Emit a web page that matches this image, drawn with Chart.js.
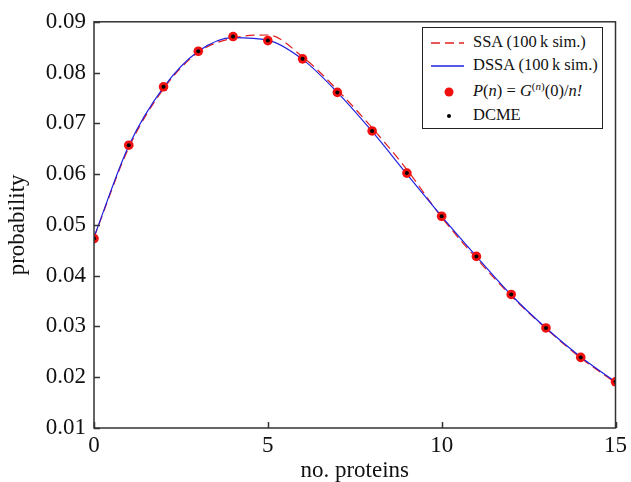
<!DOCTYPE html>
<html>
<head>
<meta charset="utf-8">
<script src="https://cdn.jsdelivr.net/npm/chart.js@4.4.1/dist/chart.umd.min.js"></script>
<style>
  html, body { margin: 0; padding: 0; background: #fff; }
  #wrap { position: relative; width: 631px; height: 482px; }
  #legend {
    position: absolute; left: 422px; top: 27px; width: 181px; height: 102px;
    border: 1.5px solid #222; background: #fff; box-sizing: border-box;
    font-family: "Liberation Serif", "DejaVu Serif", serif; font-size: 16.5px; color: #111;
  }
  #legend .row { position: absolute; left: 0; height: 20px; width: 100%; }
  #legend .txt { position: absolute; left: 50px; top: 0; white-space: nowrap; line-height: 20px; }
  #legend svg { position: absolute; left: 0; top: 0; }
  #legend sup { font-size: 11px; line-height: 0; }
</style>
</head>
<body>
<div id="wrap">
  <canvas id="chart" width="631" height="482"></canvas>
  <div id="legend">
    <div class="row" style="top:4px">
      <svg width="48" height="20"><line x1="8" y1="11" x2="41" y2="11" stroke="#e02020" stroke-width="1.3" stroke-dasharray="9,5"/></svg>
      <div class="txt">SSA (100&#8201;k sim.)</div>
    </div>
    <div class="row" style="top:27px">
      <svg width="48" height="20"><line x1="8" y1="11" x2="41" y2="11" stroke="#2020e0" stroke-width="1.3"/></svg>
      <div class="txt">DSSA (100&#8201;k sim.)</div>
    </div>
    <div class="row" style="top:53px">
      <svg width="48" height="20"><circle cx="26" cy="11" r="4.5" fill="#f01010"/></svg>
      <div class="txt"><i>P</i>(<i>n</i>) = <i>G</i><sup>(<i>n</i>)</sup>(0)/<i>n!</i></div>
    </div>
    <div class="row" style="top:77px">
      <svg width="48" height="20"><circle cx="26" cy="11" r="2" fill="#000"/></svg>
      <div class="txt">DCME</div>
    </div>
  </div>
</div>
<script>
document.addEventListener("DOMContentLoaded", () => {
  const proteins = [0, 1, 2, 3, 4, 5, 6, 7, 8, 9, 10, 11, 12, 13, 14, 15];
  const ssaValues = [0.0475, 0.0652, 0.0768, 0.0840, 0.0868, 0.0874, 0.0831, 0.0766, 0.0691, 0.0609, 0.0515, 0.0434, 0.0360, 0.0296, 0.0238, 0.0189];
  const dssaValues = [0.0476, 0.0656, 0.0771, 0.0842, 0.0869, 0.0864, 0.0826, 0.0761, 0.0684, 0.0600, 0.0517, 0.0438, 0.0362, 0.0297, 0.0240, 0.0191];
  const exactValues = [0.0473, 0.0657, 0.0772, 0.0842, 0.0871, 0.0863, 0.0827, 0.0761, 0.0685, 0.0602, 0.0517, 0.0438, 0.0363, 0.0297, 0.0239, 0.0191];
  const dcmeValues = exactValues.slice();
  const xTicks = [0, 5, 10, 15];

  const pts = vals => proteins.map((n, i) => ({ x: n, y: vals[i] }));
  const serif = "'Liberation Serif', 'DejaVu Serif', serif";

  // box round the plot + inward tick marks
  const frame = {
    id: "frame",
    afterDatasetsDraw(chart) {
      const { ctx, chartArea: a, scales } = chart;
      ctx.save();
      ctx.strokeStyle = "#333";
      ctx.lineWidth = 1.5;
      ctx.strokeRect(a.left, a.top, a.right - a.left, a.bottom - a.top);
      ctx.beginPath();
      scales.y.ticks.forEach(t => {
        const y = Math.round(scales.y.getPixelForValue(t.value)) + 0.5;
        ctx.moveTo(a.left, y);
        ctx.lineTo(a.left + 6, y);
      });
      xTicks.forEach(v => {
        const x = Math.round(scales.x.getPixelForValue(v)) + 0.5;
        ctx.moveTo(x, a.bottom);
        ctx.lineTo(x, a.bottom - 6);
      });
      ctx.stroke();
      ctx.restore();
    }
  };

  new Chart(document.getElementById("chart"), {
    type: "line",
    data: {
      datasets: [
        { label: "DCME", data: pts(dcmeValues), showLine: false, pointRadius: 2,
          pointBackgroundColor: "#000", pointBorderWidth: 0, order: 0 },
        { label: "P(n)", data: pts(exactValues), showLine: false, pointRadius: 4.8,
          pointBackgroundColor: "#f01010", pointBorderWidth: 0, order: 1 },
        { label: "DSSA", data: pts(dssaValues), borderColor: "#2020e0", borderWidth: 1.2,
          pointRadius: 0, cubicInterpolationMode: "monotone", order: 2 },
        { label: "SSA", data: pts(ssaValues), borderColor: "#e02020", borderWidth: 1.2,
          borderDash: [9, 5], pointRadius: 0, cubicInterpolationMode: "monotone", order: 3 }
      ]
    },
    options: {
      responsive: false,
      animation: false,
      layout: { padding: { top: 14, right: 11, left: 0, bottom: 0 } },
      plugins: { legend: { display: false }, tooltip: { enabled: false } },
      scales: {
        x: {
          type: "linear", min: 0, max: 15,
          afterBuildTicks: s => { s.ticks = xTicks.map(v => ({ value: v })); },
          afterFit: s => { s.height = 54; },
          grid: { display: false, drawTicks: false },
          border: { display: false },
          ticks: { color: "#111", padding: 4, font: { family: serif, size: 23 } },
          title: { display: true, text: "no. proteins", color: "#111", padding: { top: 0, bottom: -3 },
                   font: { family: serif, size: 23 } }
        },
        y: {
          min: 0.01, max: 0.09,
          afterFit: s => { s.width = 94; },
          grid: { display: false, drawTicks: false },
          border: { display: false },
          ticks: { stepSize: 0.01, color: "#111", padding: 8,
                   font: { family: serif, size: 23 },
                   callback: v => v.toFixed(2) },
          title: { display: true, text: "probability", color: "#111", padding: { bottom: 2 },
                   font: { family: serif, size: 23 } }
        }
      }
    },
    plugins: [frame]
  });
});
</script>
</body>
</html>
